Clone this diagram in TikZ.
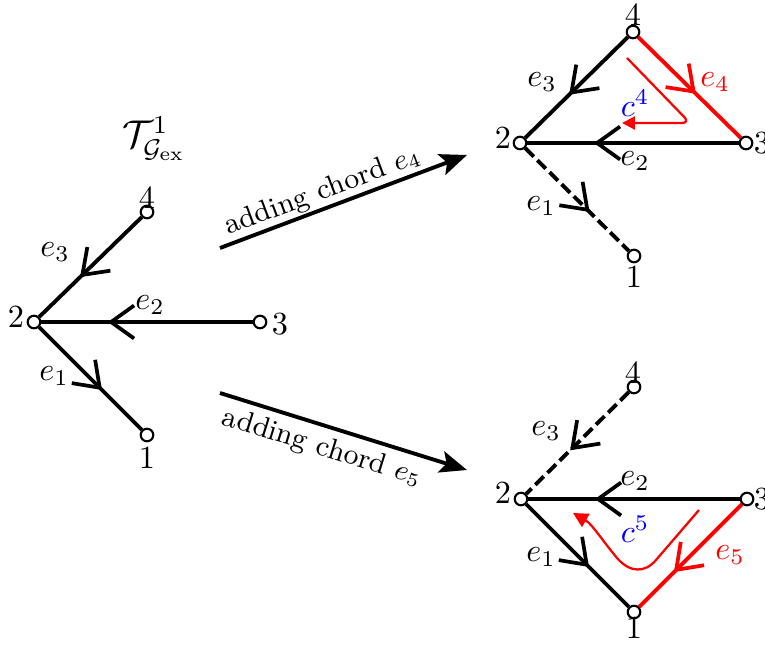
\documentclass[tikz,border=0pt]{standalone}
\usetikzlibrary{arrows.meta,decorations.markings}
\begin{document}
\begin{tikzpicture}[x=0.31pt,y=-0.31pt,
  vtx/.style={circle,draw,fill=white,inner sep=0pt,minimum size=3.9pt,line width=0.65pt},
  lbl/.style={inner sep=0pt},
  tedge/.style={line width=1.2pt},
  chev/.style n args={2}{postaction={decorate,decoration={markings,mark=at position #1 with {\draw[solid,line width=1.15pt,#2] (-23,16.5) -- (0,0) -- (-23,-16.5);}}}},
  dsh/.style={dash pattern=on 3.7pt off 1.6pt},
  chord/.style={line width=1.2pt,-{Stealth[length=8.4pt,width=6.8pt,inset=1.8pt]}},
  chordtext/.style={font=\small,sloped,pos=0.44},
  cyc/.style={red,line width=0.7pt,-{Triangle[length=4pt,width=4pt]}}
]
\useasboundingbox (0,0) rectangle (765,646);

% ---------- left tree ----------
\node[vtx] (a2) at (34,322) {};
\node[vtx] (a4) at (147,212) {};
\node[vtx] (a3) at (260,322) {};
\node[vtx] (a1) at (147,435) {};
\draw[tedge,chev={0.58}{black}] (a4) -- (a2);
\draw[tedge,chev={0.67}{black}] (a3) -- (a2);
\draw[tedge,chev={0.59}{black}] (a2) -- (a1);
\node[lbl] (la2) at (16,317) {2};
\node[lbl] (la4) at (147,198) {4};
\node[lbl] (la3) at (280,324) {3};
\node[lbl] (la1) at (147,458) {1};
\node[lbl] (le3) at (55,252) {$e_3$};
\node[lbl] (le2) at (150,305) {$e_2$};
\node[lbl] (le1) at (54,376) {$e_1$};
\node[lbl,font=\large] (title) at (154,139) {$\mathcal{T}^1_{\mathcal{G}_{\mathrm{ex}}}$};

% ---------- chord arrows ----------
\coordinate (p1s) at (220,248);
\coordinate (p1e) at (467,155);
\coordinate (p2s) at (220,393);
\coordinate (p2e) at (467,470);
\draw[chord] (p1s) -- node[chordtext,above,inner sep=0.4pt] (t1) {adding chord $e_4$} (p1e);
\draw[chord] (p2s) -- node[chordtext,below,inner sep=2.3pt] (t2) {adding chord $e_5$} (p2e);

% ---------- top right ----------
\node[vtx] (b4) at (633,32) {};
\node[vtx] (b2) at (520,143) {};
\node[vtx] (b3) at (746,143) {};
\node[vtx] (b1) at (634,256) {};
\draw[tedge,chev={0.55}{black}] (b4) -- (b2);
\draw[tedge,chev={0.67}{black}] (b3) -- (b2);
\draw[tedge,dsh,chev={0.6}{black}] (b2) -- (b1);
\draw[tedge,red,chev={0.54}{red}] (b4) -- (b3);
\coordinate (q1) at (627,58);
\coordinate (q2) at (690,123);
\coordinate (q3) at (622,123);
\draw[cyc,rounded corners=2.5pt] (q1) -- (q2) -- (q3);
\node[lbl] (lb4) at (633,15) {4};
\node[lbl] (lb2) at (503,138) {2};
\node[lbl] (lb3) at (762,143) {3};
\node[lbl] (lb1) at (634,277) {1};
\node[lbl] (lbe3) at (542,82) {$e_3$};
\node[lbl,red] (lbe4) at (715,82) {$e_4$};
\node[lbl,blue] (lbc4) at (635,103) {$c^4$};
\node[lbl] (lbe2) at (635,161) {$e_2$};
\node[lbl] (lbe1) at (541,206) {$e_1$};

% ---------- bottom right ----------
\node[vtx] (d4) at (634,387) {};
\node[vtx] (d2) at (521,499) {};
\node[vtx] (d3) at (747,499) {};
\node[vtx] (d1) at (634,612) {};
\draw[tedge,dsh,chev={0.55}{black}] (d4) -- (d2);
\draw[tedge,chev={0.67}{black}] (d3) -- (d2);
\draw[tedge,chev={0.59}{black}] (d2) -- (d1);
\draw[tedge,red,chev={0.64}{red}] (d3) -- (d1);
\coordinate (r1) at (699,510);
\coordinate (r2) at (656,560);
\coordinate (r3) at (617,558);
\coordinate (r4) at (573,513);
\draw[cyc,-{Triangle[length=4.6pt,width=4.6pt]}] (r1) -- (r2) .. controls (645,573) and (630,573) .. (r3) .. controls (602,540) and (592,524) .. (r4);
\node[lbl] (ld4) at (633,373) {4};
\node[lbl] (ld2) at (503,493) {2};
\node[lbl] (ld3) at (762,499) {3};
\node[lbl] (ld1) at (634,628) {1};
\node[lbl] (lde3) at (546,431) {$e_3$};
\node[lbl] (lde2) at (635,481) {$e_2$};
\node[lbl,blue] (ldc5) at (635,529) {$c^5$};
\node[lbl,red] (lde5) at (730,555) {$e_5$};
\node[lbl] (lde1) at (541,557) {$e_1$};
\end{tikzpicture}
\end{document}
